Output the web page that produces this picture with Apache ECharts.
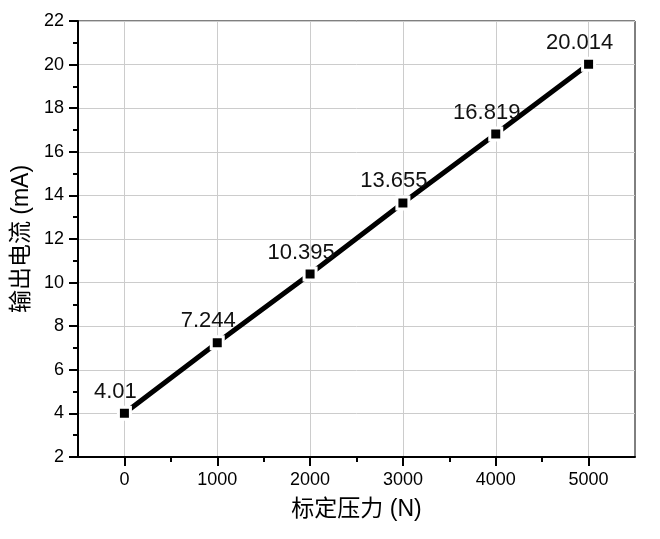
<!DOCTYPE html>
<html>
<head>
<meta charset="utf-8">
<script src="https://cdn.jsdelivr.net/npm/echarts@6/dist/echarts.min.js"></script>
<style>
  html, body { margin: 0; padding: 0; background: #fff; }
  #chart { width: 660px; height: 539px; }
</style>
</head>
<body>
<div id="chart"></div>
<script>
(function() {
    // 标定数据
    var forces = [0, 1000, 2000, 3000, 4000, 5000];
    var currents = [4.01, 7.244, 10.395, 13.655, 16.819, 20.014];
    var xMajorTicks = [0, 1000, 2000, 3000, 4000, 5000];
    var xMinorTicks = [500, 1500, 2500, 3500, 4500];

    var font = "Arial, 'Liberation Sans', 'Noto Sans CJK SC', sans-serif";

    var points = forces.map(function(f, i) { return [f, currents[i]]; });

    var option = {
        animation: false,
        backgroundColor: '#fff',
        grid: {
            left: 78,
            top: 21,
            right: 25,
            bottom: 82,
            show: true,
            borderColor: '#000',
            borderWidth: 1,
        },
        xAxis: [
            {
                type: 'value',
                min: -500,
                max: 5500,
                interval: 500,
                name: '标定压力 (N)',
                nameLocation: 'middle',
                nameGap: 41,
                nameTextStyle: { fontFamily: font, fontSize: 23, color: '#000' },
                axisLine: { onZero: false, lineStyle: { color: '#000', width: 2 } },
                axisTick: {
                    customValues: xMajorTicks,
                    length: 9,
                    lineStyle: { color: '#000', width: 2 },
                },
                axisLabel: {
                    customValues: xMajorTicks,
                    margin: 14,
                    fontFamily: font,
                    fontSize: 18,
                    color: '#000',
                    formatter: function(v) { return String(v); },
                },
                splitLine: { show: true, lineStyle: { color: '#cccccc', width: 1 } },
            },
            {
                type: 'value',
                min: -500,
                max: 5500,
                interval: 500,
                position: 'bottom',
                axisLine: { show: false, onZero: false },
                axisTick: {
                    customValues: xMinorTicks,
                    length: 5,
                    lineStyle: { color: '#000', width: 2 },
                },
                axisLabel: { show: false },
                splitLine: { show: false },
            },
        ],
        yAxis: {
            type: 'value',
            min: 2,
            max: 22,
            interval: 2,
            name: '输出电流 (mA)',
            nameLocation: 'middle',
            nameGap: 36,
            nameTextStyle: { fontFamily: font, fontSize: 23, color: '#000' },
            axisLine: { show: true, onZero: false, lineStyle: { color: '#000', width: 2 } },
            axisTick: { show: true, length: 9, lineStyle: { color: '#000', width: 2 } },
            minorTick: { show: true, splitNumber: 2, length: 5, lineStyle: { color: '#000', width: 2 } },
            axisLabel: { margin: 14, fontFamily: font, fontSize: 18, color: '#000' },
            splitLine: { show: true, lineStyle: { color: '#cccccc', width: 1 } },
        },
        series: [
            {
                type: 'line',
                data: points,
                symbol: 'rect',
                symbolSize: 12,
                lineStyle: { color: '#000', width: 5 },
                itemStyle: { color: '#000', borderColor: '#fff', borderWidth: 3 },
                label: {
                    show: true,
                    position: 'top',
                    offset: [-9, 2],
                    fontFamily: font,
                    fontSize: 22,
                    color: '#111',
                    formatter: function(p) { return String(p.value[1]); },
                },
                z: 5,
            },
        ],
    };
    var myChart = echarts.init(document.getElementById('chart'));
    myChart.setOption(option);
})();
</script>
</body>
</html>
